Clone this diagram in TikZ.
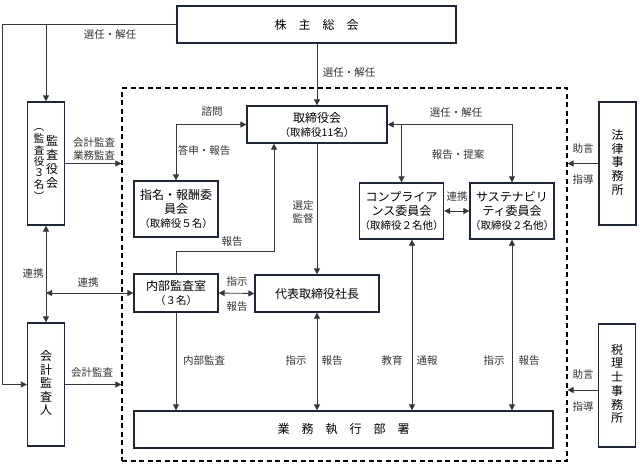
\documentclass[tikz,border=0pt]{standalone}
\usepackage{fontspec}
\setmainfont{Noto Sans CJK JP}
\usetikzlibrary{arrows.meta,positioning}
\definecolor{boxline}{RGB}{30,38,56}
\definecolor{wire}{RGB}{55,55,55}
\newcommand{\tate}[1]{\begin{tabular}[c]{@{}c@{}}#1\end{tabular}}
\newcommand{\kakko}[1]{{\fontsize{10.5}{13}\selectfont #1}}

\begin{document}
\begin{tikzpicture}[x=1pt,y=-1pt,>={Triangle[length=6pt,width=6pt]},
box/.style={draw=boxline,line width=1.3pt,fill=white,inner sep=0pt,align=center,font=\fontsize{12}{14}\selectfont},
vbox/.style={box,minimum width=37pt,minimum height=123pt,font=\fontsize{12}{12.2}\selectfont},
waku/.style={draw=black,line width=1.2pt,dash pattern=on 5pt off 3.5pt,inner sep=0pt,minimum width=445pt,minimum height=373pt},
arr/.style={->,draw=wire,line width=0.8pt},
arrs/.style={<->,draw=wire,line width=0.8pt},
lbl/.style={font=\fontsize{10.5}{13}\selectfont,text=black!80,inner sep=1pt,align=center}]
\useasboundingbox (0,0) rectangle (640,467);

% frame of the company
\node[waku] (frame) at (344.5,274.5) {};

% boxes
\node[box,minimum width=279pt,minimum height=37pt] (soukai) at (316.5,24.5) {株　主　総　会};
\node[vbox] (kansa) at (46,163.5) {{\fontsize{10.5}{10}\selectfont\tate{︵\\監\\査\\役\\３\\名\\︶}}\hspace{2pt}\tate{監\\査\\役\\会}};
\node[vbox] (kaikei) at (46,384.5) {\tate{会\\計\\監\\査\\人}};
\node[box,minimum width=140pt,minimum height=37pt] (torishimari) at (317,124.5) {取締役会\\\kakko{（取締役11名）}};
\node[box,minimum width=84pt,minimum height=56pt] (shimei) at (176,209) {指名・報酬委\\員会\\\kakko{（取締役５名）}};
\node[box,minimum width=84pt,minimum height=38pt] (naibu) at (176,293) {内部監査室\\\kakko{（３名）}};
\node[box,minimum width=124pt,minimum height=37pt] (daihyo) at (317,293.5) {代表取締役社長};
\node[box,minimum width=83pt,minimum height=56pt] (comp) at (401.5,211) {コンプライア\\ンス委員会\\\kakko{（取締役２名他）}};
\node[box,minimum width=82pt,minimum height=56pt] (sustain) at (512,211) {サステナビリ\\ティ委員会\\\kakko{（取締役２名他）}};
\node[box,minimum width=419pt,minimum height=37pt] (gyomu) at (343.5,429.5) {業　務　執　行　部　署};
\node[vbox] (houritsu) at (617.5,163.5) {\tate{法\\律\\事\\務\\所}};
\node[vbox] (zeirishi) at (617,385.5) {\tate{税\\理\\士\\事\\務\\所}};

% connectors
\draw[arr] (soukai.west) -| ([xshift=-24pt]kaikei.west) -- (kaikei.west);
\draw[arr] (soukai.west -| kansa.north) -- (kansa.north);
\draw[arr] (soukai.south -| torishimari.north) -- (torishimari.north);
\draw[arr] (kansa.east) -- (kansa.east -| frame.west);
\draw[arr] (kaikei.east) -- (kaikei.east -| frame.west);
\draw[arrs] (kansa.south) -- (kaikei.north);
\draw[arrs] (naibu.west -| kansa.south) -- (naibu.west);
\draw[arrs] (torishimari.west) -| (shimei.north);
\draw[arr] (naibu.north) -- ++(0,-22) -| ([xshift=-43pt]torishimari.south);
\draw[arr] (torishimari.south) -- (daihyo.north);
\draw[arrs] (naibu.east) -- (daihyo.west);
\draw[arr] (naibu.south) -- (naibu.south |- gyomu.north);
\draw[arrs] (daihyo.south) -- (daihyo.south |- gyomu.north);
\draw[arrs] (torishimari.east) -| (sustain.north);
\draw[arr] (torishimari.east -| comp.north) -- (comp.north);
\draw[arrs] (comp.east) -- (sustain.west);
\draw[arrs] ([xshift=10.5pt]comp.south) -- ([xshift=10.5pt]comp.south |- gyomu.north);
\draw[arrs] (sustain.south) -- (sustain.south |- gyomu.north);
\draw[arr] (houritsu.west) -- (houritsu.west -| frame.east);
\draw[arr] ([yshift=-4.5pt]zeirishi.west) -- ([yshift=-4.5pt]zeirishi.west -| frame.east);

% labels
\node[lbl] (l-sennin1) at (110,35) {選任・解任};
\node[lbl] (l-sennin2) at (349,73) {選任・解任};
\node[lbl] (l-kansa) at (94,149) {会計監査\\業務監査};
\node[lbl] (l-kaikei) at (92,373) {会計監査};
\node[lbl] (l-renkei1) at (33,274) {連携};
\node[lbl] (l-renkei2) at (88,283) {連携};
\node[lbl] (l-shimon) at (212,112) {諮問};
\node[lbl] (l-toushin) at (204,150) {答申・報告};
\node[lbl] (l-houkoku1) at (232,242) {報告};
\node[lbl] (l-sentei) at (303,212) {選定\\監督};
\node[lbl] (l-shiji1) at (237,282) {指示};
\node[lbl] (l-houkoku2) at (237,307) {報告};
\node[lbl] (l-naibu) at (204,361) {内部監査};
\node[lbl] (l-shiji2) at (296,361) {指示};
\node[lbl] (l-houkoku3) at (332,361) {報告};
\node[lbl] (l-kyouiku) at (392,361) {教育};
\node[lbl] (l-tsuuhou) at (427,361) {通報};
\node[lbl] (l-shiji3) at (494,361) {指示};
\node[lbl] (l-houkoku4) at (529,361) {報告};
\node[lbl] (l-sennin3) at (456,113) {選任・解任};
\node[lbl] (l-teian) at (458,155) {報告・提案};
\node[lbl] (l-renkei3) at (457,197) {連携};
\node[lbl] (l-jogen1) at (583,149) {助言};
\node[lbl] (l-shidou1) at (583,179) {指導};
\node[lbl] (l-jogen2) at (583,375) {助言};
\node[lbl] (l-shidou2) at (583,406) {指導};
\end{tikzpicture}
\end{document}
